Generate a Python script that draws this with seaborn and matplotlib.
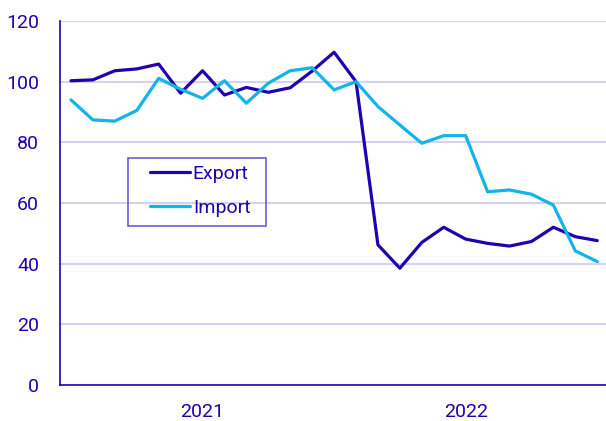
import numpy as np
import pandas as pd
import matplotlib
matplotlib.use("Agg")
import matplotlib.pyplot as plt
from matplotlib.patches import Rectangle
import seaborn as sns

# Monatswerte Jan 2021 - Jan 2023
monate = pd.date_range("2021-01-01", "2023-01-01", freq="MS")
export = [100.3, 100.6, 103.6, 104.2, 105.8, 96.2, 103.6, 95.6, 98.1, 96.5,
          98.0, 103.5, 109.7, 100.0, 46.2, 38.5, 47.0, 52.0, 48.1, 46.7,
          45.8, 47.3, 52.0, 48.9, 47.6]
importe = [94.0, 87.4, 87.0, 90.5, 101.1, 97.5, 94.5, 100.3, 92.9, 99.5,
           103.6, 104.6, 97.3, 100.0, 91.8, 85.7, 79.7, 82.2, 82.2, 63.7,
           64.3, 62.9, 59.3, 44.2, 40.7]
jahre = ["2021", "2022"]
y_ticks = [0, 20, 40, 60, 80, 100, 120]

TEXT = "#2200B0"
farben = {"Export": "#2200B0", "Import": "#12B4EA"}
FS = 14

# Position: Monatsmitte auf einer Achse in Monaten
pos = np.arange(len(monate)) + 0.5
df = pd.DataFrame({
    "pos": np.concatenate([pos, pos]),
    "wert": export + importe,
    "serie": ["Export"] * len(export) + ["Import"] * len(importe),
})

sns.set_style("white")
plt.rcParams["font.family"] = ["Roboto", "DejaVu Sans"]

fig = plt.figure(figsize=(6.06, 4.21), dpi=100)
ax = fig.add_axes([60 / 606, 36 / 421, 546 / 606, 364 / 421])

sns.lineplot(data=df, x="pos", y="wert", hue="serie", palette=farben,
             linewidth=2.3, ax=ax)

ax.set_xlim(0, 24.9)
ax.set_ylim(0, 120)
ax.set_yticks(y_ticks)
ax.grid(axis="y", color="#D4D2F2", linewidth=1.5)
ax.set_axisbelow(True)

ax.set_xticks([0, 12, 24])
ax.set_xticklabels([])
ax.set_xticks([6.5, 18.5], minor=True)
ax.set_xticklabels(jahre, minor=True)
ax.tick_params(axis="x", which="major", direction="out", length=5,
               width=1.2, color=TEXT)
ax.tick_params(axis="x", which="minor", length=0, pad=13,
               labelsize=FS, labelcolor=TEXT)
ax.tick_params(axis="y", direction="out", length=5, width=1.2, color=TEXT,
               pad=10, labelsize=FS, labelcolor=TEXT)

for s in ["top", "right"]:
    ax.spines[s].set_visible(False)
for s in ["left", "bottom"]:
    ax.spines[s].set_color(TEXT)
    ax.spines[s].set_linewidth(1.2)

ax.set_xlabel("")
ax.set_ylabel("")

leg = ax.legend(loc="upper left", bbox_to_anchor=(150 / 606, 1 - 165 / 421),
                bbox_transform=fig.transFigure, borderaxespad=0,
                fontsize=FS, handlelength=2.05, handletextpad=0.15,
                borderpad=0, labelspacing=0.8, frameon=False, title=None)
for t in leg.get_texts():
    t.set_color(TEXT)

# Rahmen der Legende
fig.patches.append(Rectangle((128 / 606, 1 - 226 / 421), 138 / 606, 68 / 421,
                             transform=fig.transFigure, fill=False,
                             edgecolor="#6E5CD6", linewidth=1.2))

fig.savefig("out.png", dpi=100)
